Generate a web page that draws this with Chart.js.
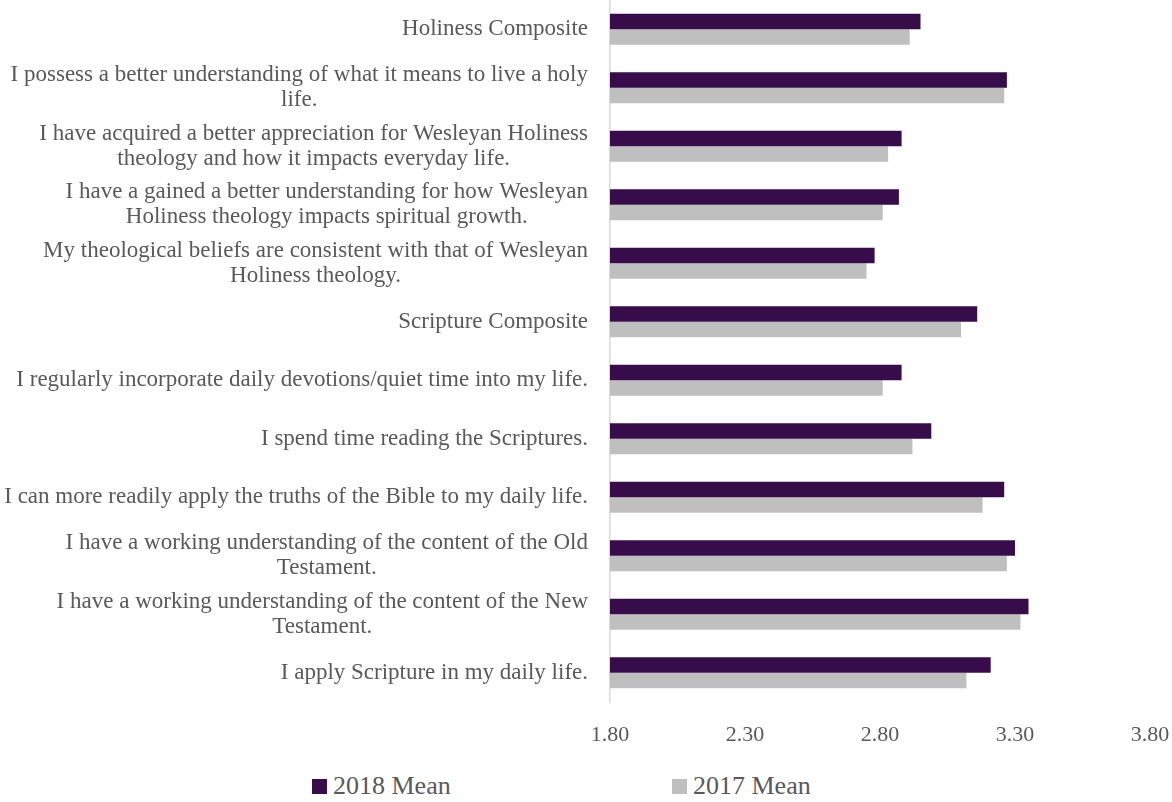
<!DOCTYPE html>
<html>
<head>
<meta charset="utf-8">
<title>2018 vs 2017 Mean</title>
<script src="https://cdn.jsdelivr.net/npm/chart.js@4.4.0/dist/chart.umd.min.js"></script>
<style>
  body { margin: 0; background: #fff; }
  .chart-container { position: relative; width: 1172px; height: 760px; }
  .legend { position: relative; width: 1172px; height: 42px; font-family: "Liberation Serif", "Times New Roman", serif; font-size: 26px; color: #595959; }
  .legend-item { position: absolute; top: 11px; display: flex; align-items: center; }
  .legend-item span.box { display: inline-block; width: 15px; height: 15px; margin-right: 6px; }
</style>
</head>
<body>
<div class="chart-container">
  <canvas id="means-chart"></canvas>
</div>
<div class="legend" id="legend"></div>

<script>
// Survey items (wrapped lines per item)
const categories = [
  ["Holiness Composite"],
  ["I possess a better understanding of what it means to live a holy", "life."],
  ["I have acquired a better appreciation for Wesleyan Holiness", "theology and how it impacts everyday life."],
  ["I have a gained a better understanding for how Wesleyan", "Holiness theology impacts spiritual growth."],
  ["My theological beliefs are consistent with that of Wesleyan", "Holiness theology."],
  ["Scripture Composite"],
  ["I regularly incorporate daily devotions/quiet time into my life."],
  ["I spend time reading the Scriptures."],
  ["I can more readily apply the truths of the Bible to my daily life."],
  ["I have a working understanding of the content of the Old", "Testament."],
  ["I have a working understanding of the content of the New", "Testament."],
  ["I apply Scripture in my daily life."],
];

const mean2018 = [2.95, 3.27, 2.88, 2.87, 2.78, 3.16, 2.88, 2.99, 3.26, 3.30, 3.35, 3.21];
const mean2017 = [2.91, 3.26, 2.83, 2.81, 2.75, 3.10, 2.81, 2.92, 3.18, 3.27, 3.32, 3.12];

const xTicks = [1.8, 2.3, 2.8, 3.3, 3.8];

const FONT = "'Liberation Serif', 'Times New Roman', serif";
const TEXT_COLOR = "#595959";
const COLOR_2018 = "#360d4a";
const COLOR_2017 = "#bfbfbf";

// Category labels: each line centered within its block, block right-aligned to the axis
const itemLabels = {
  id: "itemLabels",
  afterDraw(chart) {
    const ctx = chart.ctx;
    const yScale = chart.scales.y;
    const right = chart.chartArea.left - 22;
    const lineHeight = 25;
    ctx.save();
    ctx.font = "23px " + FONT;
    ctx.fillStyle = TEXT_COLOR;
    ctx.textAlign = "center";
    ctx.textBaseline = "middle";
    categories.forEach((lines, i) => {
      const y = yScale.getPixelForTick(i);
      const widest = Math.max(...lines.map((l) => ctx.measureText(l).width));
      const cx = right - widest / 2;
      lines.forEach((line, j) => {
        ctx.fillText(line, cx, y + (j - (lines.length - 1) / 2) * lineHeight);
      });
    });
    ctx.restore();
  },
};

const ctx = document.getElementById("means-chart").getContext("2d");
const meansChart = new Chart(ctx, {
  type: "bar",
  data: {
    labels: categories,
    datasets: [
      {
        label: "2018 Mean",
        data: mean2018,
        backgroundColor: COLOR_2018,
        borderWidth: 0,
      },
      {
        label: "2017 Mean",
        data: mean2017,
        backgroundColor: COLOR_2017,
        borderWidth: 0,
      },
    ],
  },
  options: {
    indexAxis: "y",
    responsive: true,
    maintainAspectRatio: false,
    animation: false,
    layout: { padding: { top: 0, right: 22, left: 0, bottom: 0 } },
    datasets: {
      bar: { categoryPercentage: 0.53, barPercentage: 1 },
    },
    plugins: {
      legend: { display: false },
      tooltip: { enabled: false },
    },
    scales: {
      x: {
        min: 1.8,
        max: 3.8,
        afterBuildTicks: (scale) => {
          scale.ticks = xTicks.map((v) => ({ value: v }));
        },
        afterFit: (scale) => {
          scale.height = 58;
          // the outer tick labels fit inside the layout padding already
          scale.paddingLeft = 0;
          scale.paddingRight = 0;
        },
        grid: { display: false },
        border: { display: false },
        ticks: {
          padding: 12,
          color: TEXT_COLOR,
          font: { family: FONT, size: 22 },
          callback: (value) => Number(value).toFixed(2),
        },
      },
      y: {
        afterFit: (scale) => {
          scale.width = 610;
        },
        grid: { display: false },
        border: { display: true, color: "#d9d9d9", width: 1.5 },
        ticks: { display: false },
      },
    },
  },
  plugins: [itemLabels],
});

// Legend below the chart
const legendEl = document.getElementById("legend");
const legendLeft = [312, 672];
meansChart.data.datasets.forEach((ds, i) => {
  const item = document.createElement("div");
  item.className = "legend-item";
  item.style.left = legendLeft[i] + "px";
  const box = document.createElement("span");
  box.className = "box";
  box.style.background = ds.backgroundColor;
  const text = document.createElement("span");
  text.textContent = ds.label;
  item.appendChild(box);
  item.appendChild(text);
  legendEl.appendChild(item);
});
</script>
</body>
</html>
